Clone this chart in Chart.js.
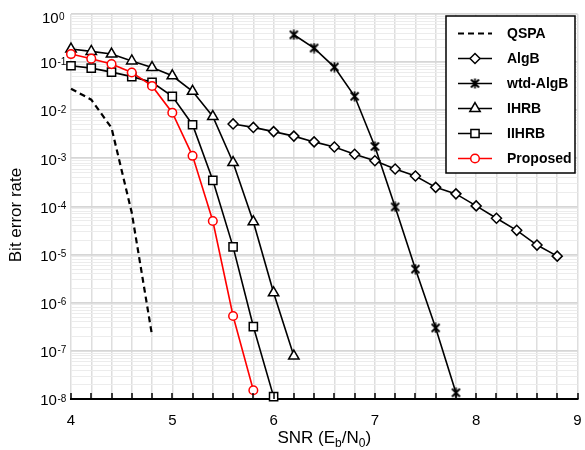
<!DOCTYPE html>
<html>
<head>
<meta charset="utf-8">
<title>BER vs SNR</title>
<script src="https://cdn.jsdelivr.net/npm/chart.js@4/dist/chart.umd.min.js"></script>
<style>
  html, body { margin: 0; padding: 0; background: #fff; }
  #wrap { width: 585px; height: 450px; }
</style>
</head>
<body>
<div id="wrap"><canvas id="ber" width="585" height="450"></canvas></div>
<script>
// SNR points (dB) and bit error rates for each decoder
const snrQSPA = [4.0, 4.2, 4.4, 4.6, 4.8];
const berQSPA = [0.028, 0.0166, 4.3e-3, 7.4e-5, 2.1e-7];

const snrAlgB = [5.6, 5.8, 6.0, 6.2, 6.4, 6.6, 6.8, 7.0, 7.2, 7.4, 7.6, 7.8, 8.0, 8.2, 8.4, 8.6, 8.8];
const berAlgB = [5.2e-3, 4.4e-3, 3.6e-3, 2.9e-3, 2.2e-3, 1.72e-3, 1.22e-3, 8.9e-4, 6.0e-4, 4.3e-4, 2.5e-4, 1.83e-4, 1.03e-4, 5.7e-5, 3.2e-5, 1.58e-5, 9.3e-6];

const snrWtdAlgB = [6.2, 6.4, 6.6, 6.8, 7.0, 7.2, 7.4, 7.6, 7.8];
const berWtdAlgB = [0.37, 0.196, 0.079, 0.0195, 1.77e-3, 9.8e-5, 5.0e-6, 3.0e-7, 1.35e-8];

const snrIHRB = [4.0, 4.2, 4.4, 4.6, 4.8, 5.0, 5.2, 5.4, 5.6, 5.8, 6.0, 6.2];
const berIHRB = [0.187, 0.167, 0.147, 0.106, 0.077, 0.052, 0.0247, 7.4e-3, 8.2e-4, 4.8e-5, 1.61e-6, 7.8e-8];

const snrIIHRB = [4.0, 4.2, 4.4, 4.6, 4.8, 5.0, 5.2, 5.4, 5.6, 5.8, 6.0];
const berIIHRB = [0.084, 0.075, 0.062, 0.050, 0.038, 0.0194, 5.0e-3, 3.5e-4, 1.45e-5, 3.2e-7, 1.12e-8];

const snrProposed = [4.0, 4.2, 4.4, 4.6, 4.8, 5.0, 5.2, 5.4, 5.6, 5.8];
const berProposed = [0.147, 0.118, 0.091, 0.061, 0.032, 8.9e-3, 1.13e-3, 5.0e-5, 5.3e-7, 1.52e-8];

const seriesLabels = ['QSPA', 'AlgB', 'wtd-AlgB', 'IHRB', 'IIHRB', 'Proposed'];
const xTickLabels = [4, 5, 6, 7, 8, 9];
const yExponents = [0, -1, -2, -3, -4, -5, -6, -7, -8];

const FONT = '"Liberation Sans", Arial, Helvetica, sans-serif';

function pts(xs, ys) { return xs.map((x, i) => ({ x: x, y: ys[i] })); }

function isDecade(v) {
  const l = Math.log10(v);
  return Math.abs(l - Math.round(l)) < 1e-9;
}

// six-armed asterisk marker (X plus a vertical stroke)
function makeAsterisk() {
  const c = document.createElement('canvas');
  c.width = 11; c.height = 11;
  const g = c.getContext('2d');
  g.strokeStyle = '#000';
  g.lineWidth = 1.8;
  g.lineCap = 'butt';
  g.beginPath();
  g.moveTo(1.5, 1.5); g.lineTo(9.5, 9.5);
  g.moveTo(9.5, 1.5); g.lineTo(1.5, 9.5);
  g.moveTo(5.5, 0.5); g.lineTo(5.5, 10.5);
  g.stroke();
  return c;
}
const asterisk = makeAsterisk();

const styleBase = {
  borderColor: '#000', backgroundColor: '#fff', borderWidth: 1.6,
  pointBorderColor: '#000', pointBackgroundColor: '#fff', pointBorderWidth: 1.5,
  tension: 0, clip: false
};

const datasets = [
  Object.assign({}, styleBase, { label: seriesLabels[0], data: pts(snrQSPA, berQSPA), borderWidth: 2.2, borderDash: [6, 4], pointRadius: 0 }),
  Object.assign({}, styleBase, { label: seriesLabels[1], data: pts(snrAlgB, berAlgB), pointStyle: 'rectRot', pointRadius: 5 }),
  Object.assign({}, styleBase, { label: seriesLabels[2], data: pts(snrWtdAlgB, berWtdAlgB), pointStyle: asterisk, pointRadius: 5 }),
  Object.assign({}, styleBase, { label: seriesLabels[3], data: pts(snrIHRB, berIHRB), pointStyle: 'triangle', pointRadius: 6 }),
  Object.assign({}, styleBase, { label: seriesLabels[4], data: pts(snrIIHRB, berIIHRB), pointStyle: 'rect', pointRadius: 5.8 }),
  Object.assign({}, styleBase, { label: seriesLabels[5], data: pts(snrProposed, berProposed), borderColor: '#ff0000', pointBorderColor: '#ff0000', pointStyle: 'circle', pointRadius: 4.3, order: -1 })
];

// Axis decorations: inward ticks on the bottom axis, tick labels with
// superscript exponents, axis titles with subscripts, and the legend box.
const decor = {
  id: 'decor',
  afterDraw(chart) {
    const { ctx, chartArea: a, scales: { x, y } } = chart;
    ctx.save();

    // bottom axis ticks pointing inward
    ctx.strokeStyle = '#000';
    ctx.lineWidth = 1.5;
    x.ticks.forEach(t => {
      const px = Math.round(x.getPixelForValue(t.value));
      ctx.beginPath();
      ctx.moveTo(px, a.bottom);
      ctx.lineTo(px, a.bottom - 6);
      ctx.stroke();
    });

    // x tick labels
    ctx.fillStyle = '#000';
    ctx.font = '15px ' + FONT;
    ctx.textAlign = 'center';
    ctx.textBaseline = 'middle';
    xTickLabels.forEach(v => ctx.fillText(String(v), x.getPixelForValue(v), a.bottom + 22));

    // y tick labels: 10^e
    yExponents.forEach(e => {
      const py = y.getPixelForValue(Math.pow(10, e));
      const cy = Math.max(py + 2, 19);
      ctx.font = '15px ' + FONT;
      const base = '10';
      const wb = ctx.measureText(base).width;
      ctx.font = '10px ' + FONT;
      const sup = String(e);
      const ws = ctx.measureText(sup).width;
      const x0 = 53 - (wb + ws) / 2;
      ctx.textAlign = 'left';
      ctx.textBaseline = 'middle';
      ctx.font = '15px ' + FONT;
      ctx.fillText(base, x0, cy);
      ctx.font = '10px ' + FONT;
      ctx.textBaseline = 'alphabetic';
      ctx.fillText(sup, x0 + wb + 0.5, cy + 0.5);
    });

    // x axis title: SNR (E_b/N_0)
    const parts = [
      ['SNR (E', 17, 0], ['b', 12, 4], ['/N', 17, 0], ['0', 12, 4], [')', 17, 0]
    ];
    let total = 0;
    parts.forEach(p => { ctx.font = p[1] + 'px ' + FONT; total += ctx.measureText(p[0]).width; });
    let tx = (a.left + a.right) / 2 - total / 2;
    ctx.textAlign = 'left';
    ctx.textBaseline = 'alphabetic';
    parts.forEach(p => {
      ctx.font = p[1] + 'px ' + FONT;
      ctx.fillText(p[0], tx, 443 + p[2]);
      tx += ctx.measureText(p[0]).width;
    });

    // y axis title
    ctx.save();
    ctx.translate(16, 215);
    ctx.rotate(-Math.PI / 2);
    ctx.font = '17px ' + FONT;
    ctx.textAlign = 'center';
    ctx.textBaseline = 'middle';
    ctx.fillText('Bit error rate', 0, 0);
    ctx.restore();

    // legend box
    const bx = 446, by = 16, bw = 129, bh = 157;
    ctx.fillStyle = '#fff';
    ctx.fillRect(bx, by, bw, bh);
    ctx.strokeStyle = '#000';
    ctx.lineWidth = 1.5;
    ctx.strokeRect(bx, by, bw, bh);
    chart.data.datasets.forEach((ds, i) => {
      const ry = 33.5 + i * 25;
      ctx.strokeStyle = ds.borderColor;
      ctx.lineWidth = ds.borderWidth;
      ctx.setLineDash(ds.borderDash || []);
      ctx.beginPath();
      ctx.moveTo(458, ry);
      ctx.lineTo(492, ry);
      ctx.stroke();
      ctx.setLineDash([]);
      if (ds.pointRadius > 0) {
        ctx.fillStyle = ds.pointBackgroundColor;
        ctx.strokeStyle = ds.pointBorderColor;
        ctx.lineWidth = ds.pointBorderWidth;
        Chart.helpers.drawPoint(ctx, {
          pointStyle: ds.pointStyle, radius: ds.pointRadius, rotation: 0, borderWidth: ds.pointBorderWidth
        }, 475, ry);
      }
      ctx.fillStyle = '#000';
      ctx.font = 'bold 14px ' + FONT;
      ctx.textAlign = 'left';
      ctx.textBaseline = 'middle';
      ctx.fillText(ds.label, 507, ry + 0.5);
    });

    ctx.restore();
  }
};

new Chart(document.getElementById('ber'), {
  type: 'line',
  data: { datasets: datasets },
  options: {
    responsive: false,
    animation: false,
    devicePixelRatio: 1,
    layout: { padding: { left: 0, top: 14, right: 5, bottom: 0 } },
    plugins: { legend: { display: false }, tooltip: { enabled: false } },
    scales: {
      x: {
        type: 'linear', min: 4, max: 9,
        ticks: { display: false, stepSize: 0.2 },
        grid: { color: '#dedede', lineWidth: 1.5, drawTicks: false },
        border: { display: true, color: '#000', width: 2 },
        afterFit(s) { s.height = 51; }
      },
      y: {
        type: 'logarithmic', min: 1e-8, max: 1,
        ticks: { display: false },
        afterBuildTicks(s) {
          const t = [];
          for (let e = -8; e <= 0; e++) {
            for (let m = 1; m <= 9; m++) {
              const v = m * Math.pow(10, e);
              if (v <= 1.0000001) t.push({ value: v });
            }
          }
          s.ticks = t;
        },
        grid: {
          drawTicks: false,
          color: c => isDecade(c.tick.value) ? '#d6d6d6' : '#ececec',
          lineWidth: c => isDecade(c.tick.value) ? 1.8 : 1
        },
        border: { display: false },
        afterFit(s) { s.width = 71; }
      }
    }
  },
  plugins: [decor]
});
</script>
</body>
</html>
